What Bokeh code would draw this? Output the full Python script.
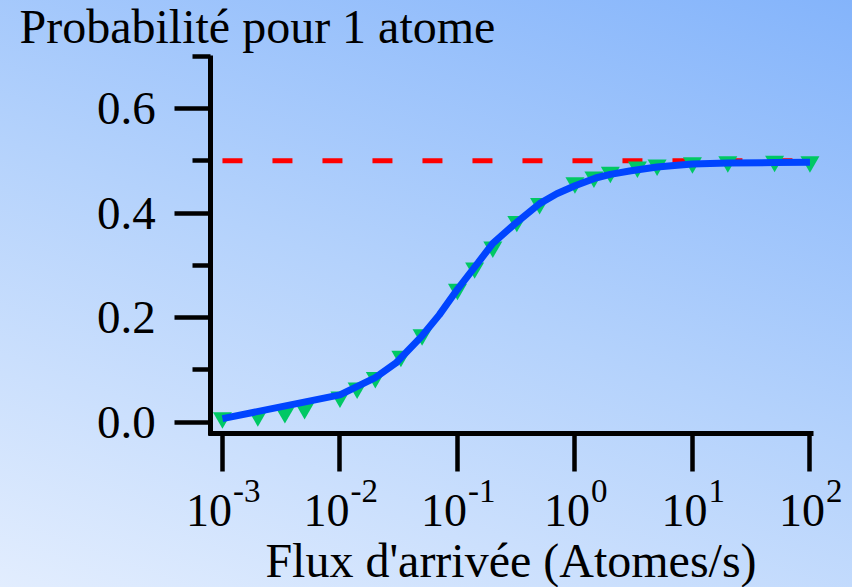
from bokeh.plotting import figure
from bokeh.models import Range1d, FixedTicker, Label, LinearAxis, LogAxis
from bokeh.embed import file_html
from bokeh.resources import INLINE

# Measured points: single-atom probability versus arrival flux
flux_pts = [1e-3, 2e-3, 3.4e-3, 5e-3, 1e-2, 1.4e-2, 2e-2, 3.3e-2, 5e-2,
            0.1, 0.14, 0.2, 0.32, 0.5, 1.0, 1.45, 2.0, 3.4, 5.0, 10.0, 20.0, 50.0, 100.0]
prob_pts = [0.008, 0.012, 0.018, 0.026, 0.048, 0.065, 0.085, 0.126, 0.167,
            0.254, 0.295, 0.335, 0.384, 0.418, 0.458, 0.469, 0.478, 0.488, 0.492,
            0.496, 0.498, 0.499, 0.498]

# Model curve
flux_fit = [1e-3, 1e-2, 2e-2, 3e-2, 5e-2, 7e-2, 0.1, 0.15, 0.2, 0.3, 0.5, 0.7,
            1.0, 1.5, 2.0, 3.0, 5.0, 7.0, 10.0, 20.0, 50.0, 100.0]
prob_fit = [0.0065, 0.052, 0.085, 0.113, 0.165, 0.205, 0.254, 0.305, 0.342, 0.377,
            0.418, 0.437, 0.452, 0.467, 0.474, 0.481, 0.488, 0.491, 0.494, 0.4955,
            0.4965, 0.497]

# Asymptote
limit_flux = [1e-3, 1e2]
limit_prob = [0.5, 0.5]

x_ticks = [1e-3, 1e-2, 1e-1, 1e0, 1e1, 1e2]
x_exponents = ["-3", "-2", "-1", "0", "1", "2"]
y_ticks = [0.0, 0.2, 0.4, 0.6]
y_minor = [0.1, 0.3, 0.5, 0.7]
y_labels = {0.0: "0.0", 0.2: "0.2", 0.4: "0.4", 0.6: "0.6"}

FONT = "Liberation Serif"

# The frame covers the whole canvas; the axes sit at fixed data positions inside it
p = figure(width=852, height=587, x_axis_type="log",
           x_range=Range1d(10 ** -4.889, 10 ** 2.362), y_range=Range1d(-0.3167, 0.8067),
           x_axis_location=None, y_axis_location=None,
           output_backend="svg", toolbar_location=None,
           min_border_left=0, min_border_right=0, min_border_top=0, min_border_bottom=0)

p.background_fill_alpha = 0
p.border_fill_alpha = 0
p.outline_line_color = None
p.styles = {"background": "linear-gradient(200deg, #84b4fb 0%, #b4d2fc 50%, #e2edfe 100%)"}
p.grid.visible = False

x_lo, x_hi = 10 ** -3.12, 10 ** 2.03
y_lo, y_hi = -0.022, 0.7015

yaxis = LinearAxis(fixed_location=10 ** -3.1, bounds=(y_lo - 0.0045, y_hi),
                   ticker=FixedTicker(ticks=y_ticks, minor_ticks=y_minor))
xaxis = LogAxis(fixed_location=y_lo, bounds=(x_lo, x_hi),
                ticker=FixedTicker(ticks=x_ticks, minor_ticks=[]))

for ax in (xaxis, yaxis):
    ax.axis_line_width = 5
    ax.axis_line_color = "black"
    ax.major_tick_line_width = 4.5
    ax.minor_tick_line_width = 4.5
    ax.major_tick_in = 0
    ax.minor_tick_in = 0

yaxis.major_tick_out = 36
yaxis.minor_tick_out = 18
yaxis.major_label_overrides = y_labels
yaxis.major_label_text_font = FONT
yaxis.major_label_text_font_size = "47px"
yaxis.major_label_text_color = "black"
yaxis.major_label_standoff = 19

xaxis.major_tick_out = 38
xaxis.minor_tick_line_color = None
xaxis.major_label_text_font_size = "0px"
xaxis.major_label_text_alpha = 0
xaxis.axis_label = "Flux d'arrivée (Atomes/s)"
xaxis.axis_label_text_font = FONT
xaxis.axis_label_text_font_style = "normal"
xaxis.axis_label_text_font_size = "48px"
xaxis.axis_label_text_color = "black"
xaxis.axis_label_standoff = 62

p.add_layout(yaxis, "left")
p.add_layout(xaxis, "below")

# Data
p.line(limit_flux, limit_prob, line_color="#ff0000", line_width=5, line_dash="20 30")
p.scatter(flux_pts, prob_pts, marker="inverted_triangle", size=19,
          fill_color="#00c864", line_color=None)
p.line(flux_fit, prob_fit, line_color="#0044ff", line_width=7)

# Decade tick labels: 10 with a superscript exponent
for tick, ex in zip(x_ticks, x_exponents):
    exp_w = 27 if ex.startswith("-") else 16
    base_right = (46 + exp_w) / 2 - exp_w
    p.add_layout(Label(x=tick, y=77, x_units="data", y_units="screen", text="10",
                       x_offset=base_right, text_align="right", text_baseline="alphabetic",
                       text_font=FONT, text_font_size="46px", text_color="black"))
    p.add_layout(Label(x=tick, y=97, x_units="data", y_units="screen", text=ex,
                       x_offset=base_right + 1, text_align="left", text_baseline="alphabetic",
                       text_font=FONT, text_font_size="33px", text_color="black"))

# Y-axis caption at top left
p.add_layout(Label(x=19, y=561, x_units="screen", y_units="screen",
                   text="Probabilité pour 1 atome", text_align="left",
                   text_baseline="alphabetic", text_font=FONT, text_font_size="48px",
                   text_color="black"))

open("out.html", "w").write(file_html(p, INLINE))
